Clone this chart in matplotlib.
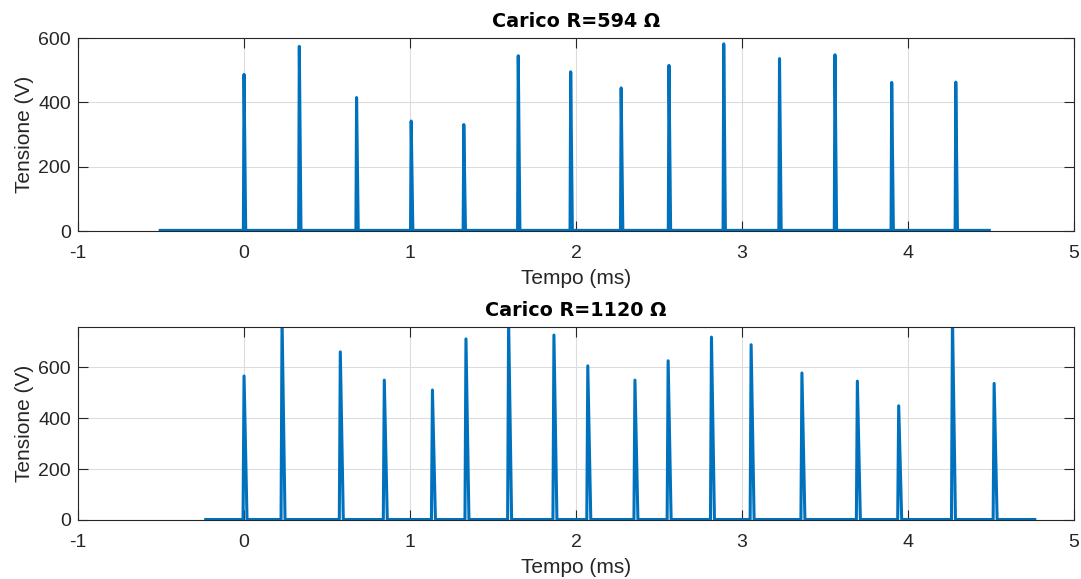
import numpy as np
import matplotlib
matplotlib.use("Agg")
import matplotlib.pyplot as plt

plt.rcParams["font.family"] = ["Liberation Sans", "DejaVu Sans"]
plt.rcParams["axes.unicode_minus"] = False

# Peak times (ms) and peak voltages (V) of the two loads
t_peaks_594 = [0.0, 0.333, 0.678, 1.007, 1.324, 1.652, 1.968, 2.272, 2.56, 2.89,
               3.226, 3.56, 3.902, 4.288]
v_peaks_594 = [487, 574, 415, 342, 331, 545, 495, 445, 515, 582, 536, 548, 462, 463]
span_594 = [-0.505, 4.49]

t_peaks_1120 = [0.0, 0.229, 0.58, 0.845, 1.135, 1.337, 1.594, 1.867, 2.071, 2.355,
                2.555, 2.816, 3.055, 3.361, 3.695, 3.944, 4.268, 4.519]
v_peaks_1120 = [566, 790, 661, 550, 511, 712, 780, 727, 606, 550, 626, 719, 689,
                578, 546, 449, 800, 537]
span_1120 = [-0.231, 4.764]

baseline = 2.0
color = "#0072BD"
text_color = "#262626"


def trace(t_peaks, v_peaks, span, rise, fall):
    t = [span[0]]
    v = [baseline]
    for tp, vp in zip(t_peaks, v_peaks):
        t += [tp - rise, tp, tp + fall]
        v += [baseline, vp, baseline]
    t.append(span[1])
    v.append(baseline)
    return np.array(t), np.array(v)


fig = plt.figure(figsize=(10.81, 5.79), dpi=100)
ax1 = fig.add_axes([0.0722, 0.601, 0.9213, 0.3333])
ax2 = fig.add_axes([0.0722, 0.1019, 0.9213, 0.3339])

panels = [
    (ax1, trace(t_peaks_594, v_peaks_594, span_594, 0.004, 0.010), (0, 600),
     "Carico R=594 Ω"),
    (ax2, trace(t_peaks_1120, v_peaks_1120, span_1120, 0.006, 0.018), (0, 760),
     "Carico R=1120 Ω"),
]

for ax, (t, v), ylim, title in panels:
    ax.plot(t, v, color=color, lw=2.2, solid_joinstyle="round")
    ax.set_xlim(-1, 5)
    ax.set_ylim(*ylim)
    ax.set_xticks(range(-1, 6))
    ax.set_yticks([0, 200, 400, 600])
    ax.grid(True, color="#dcdcdc", lw=0.8)
    ax.set_axisbelow(True)
    ax.tick_params(direction="in", length=7, width=0.8, top=True, right=True,
                   labelsize=14, colors=text_color)
    ax.tick_params(axis="x", pad=10)
    ax.tick_params(axis="y", pad=5)
    for s in ax.spines.values():
        s.set_color(text_color)
        s.set_linewidth(0.8)
    ax.set_xlabel("Tempo (ms)", fontsize=15, color=text_color, labelpad=5)
    ax.set_ylabel("Tensione (V)", fontsize=15, color=text_color, labelpad=3)
    ax.set_title(title, fontsize=13.8, fontweight="bold", color="black", pad=8,
                 family=["DejaVu Sans"])

fig.savefig("out.png", dpi=100)
